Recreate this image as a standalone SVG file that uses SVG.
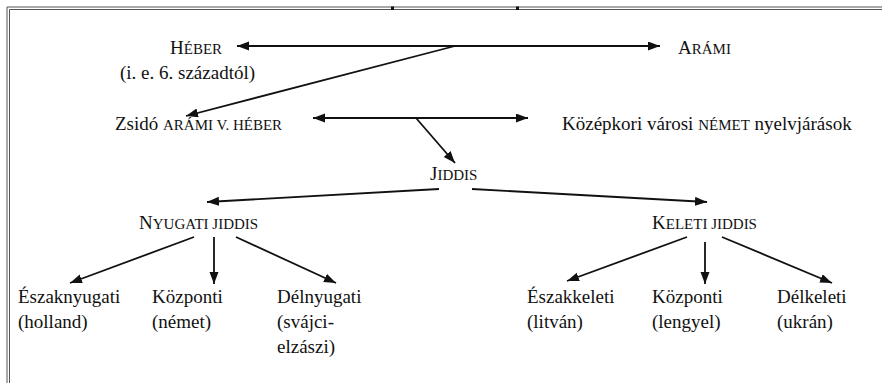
<svg xmlns="http://www.w3.org/2000/svg" width="882" height="383" viewBox="0 0 882 383">
<style>
text{font-family:'Liberation Serif',Tinos,'Times New Roman',Times,'DejaVu Serif',serif;font-size:19px;fill:#111}
.sc{font-size:15px}
.c{stroke:#111;stroke-width:1.8;fill:none}
.frame{stroke:#555;stroke-width:1;fill:none}
</style>
<defs>
<marker id="ah" markerUnits="userSpaceOnUse" markerWidth="13" markerHeight="10" refX="12" refY="4.5" orient="auto-start-reverse"><path d="M0,0 L12,4.5 L0,9 z" fill="#111"/></marker>
</defs>
<rect width="882" height="383" fill="#fff"/>
<g id="frame">
<path class="frame" d="M7,383 V7 H882 M9.5,383 V9.5 H882"/>
<rect x="391" y="6.5" width="3" height="3.5" fill="#111"/>
<rect x="516" y="6.5" width="3" height="3.5" fill="#111"/>
</g>
<g id="connectors">
<line class="c" x1="237" y1="46" x2="660" y2="46" marker-start="url(#ah)" marker-end="url(#ah)"/>
<line class="c" x1="455" y1="46" x2="186" y2="116" marker-end="url(#ah)"/>
<line class="c" x1="313" y1="118" x2="528" y2="118" marker-start="url(#ah)" marker-end="url(#ah)"/>
<line class="c" x1="416" y1="118" x2="455" y2="163" marker-end="url(#ah)"/>
<line class="c" x1="439" y1="189" x2="207" y2="202" marker-end="url(#ah)"/>
<line class="c" x1="472" y1="189" x2="707" y2="202" marker-end="url(#ah)"/>
<line class="c" x1="194" y1="237" x2="70" y2="283" marker-end="url(#ah)"/>
<line class="c" x1="214" y1="237" x2="214" y2="284" marker-end="url(#ah)"/>
<line class="c" x1="236" y1="237" x2="336" y2="283" marker-end="url(#ah)"/>
<line class="c" x1="687" y1="237" x2="567" y2="281" marker-end="url(#ah)"/>
<line class="c" x1="705" y1="242" x2="705" y2="284" marker-end="url(#ah)"/>
<line class="c" x1="722" y1="237" x2="832" y2="283" marker-end="url(#ah)"/>
</g>
<g id="heber"><text x="170" y="54">H<tspan class="sc">ÉBER</tspan></text><text x="120" y="79">(i. e. 6. századtól)</text></g>
<g id="arami"><text x="678" y="54">A<tspan class="sc">RÁMI</tspan></text></g>
<g id="zsido"><text x="115" y="130">Zsidó <tspan class="sc">ARÁMI V. HÉBER</tspan></text></g>
<g id="nemet"><text x="562" y="130">Középkori városi <tspan class="sc">NÉMET</tspan> nyelvjárások</text></g>
<g id="jiddis"><text x="430" y="180">J<tspan class="sc">IDDIS</tspan></text></g>
<g id="nyugati"><text x="139" y="229">N<tspan class="sc">YUGATI JIDDIS</tspan></text></g>
<g id="keleti"><text x="652" y="229">K<tspan class="sc">ELETI JIDDIS</tspan></text></g>
<g id="eszaknyugati"><text x="18" y="303">Északnyugati</text><text x="18" y="328">(holland)</text></g>
<g id="kozponti-ny"><text x="152" y="303">Központi</text><text x="152" y="328">(német)</text></g>
<g id="delnyugati"><text x="277" y="303">Délnyugati</text><text x="277" y="328">(svájci-</text><text x="277" y="353">elzászi)</text></g>
<g id="eszakkeleti"><text x="527" y="303">Északkeleti</text><text x="527" y="328">(litván)</text></g>
<g id="kozponti-k"><text x="652" y="303">Központi</text><text x="652" y="328">(lengyel)</text></g>
<g id="delkeleti"><text x="777" y="303">Délkeleti</text><text x="777" y="328">(ukrán)</text></g>
</svg>
